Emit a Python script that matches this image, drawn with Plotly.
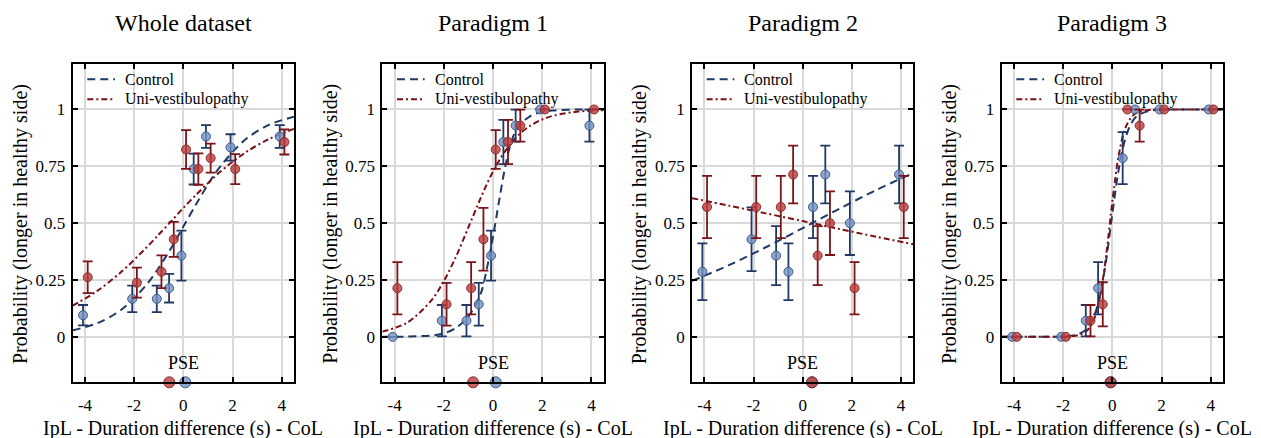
import plotly.graph_objects as go

# ---------------- data ----------------
titles = ["Whole dataset", "Paradigm 1", "Paradigm 2", "Paradigm 3"]
group_names = ["Control", "Uni-vestibulopathy"]

# stimulus durations (IpL - CoL, s)
dur_all = [-4, -2, -1, -0.5, 0, 0.5, 1, 2, 4]
dur_no0 = [-4, -2, -1, -0.5, 0.5, 1, 2, 4]

# observed proportions and error bars
p1_ctrl = [0.095, 0.167, 0.167, 0.214, 0.357, 0.738, 0.881, 0.833, 0.881]
p1_ctrl_err = [0.045, 0.058, 0.058, 0.063, 0.11, 0.068, 0.05, 0.058, 0.05]
p1_uni = [0.262, 0.238, 0.286, 0.429, 0.824, 0.738, 0.786, 0.738, 0.857]
p1_uni_err = [0.07, 0.066, 0.072, 0.077, 0.085, 0.069, 0.064, 0.066, 0.055]

p2_ctrl = [0.0, 0.071, 0.071, 0.143, 0.357, 0.857, 0.929, 1.0, 0.929]
p2_ctrl_err = [0, 0.069, 0.069, 0.094, 0.11, 0.097, 0.07, 0, 0.07]
p2_uni = [0.214, 0.143, 0.214, 0.429, 0.824, 0.857, 0.929, 1.0, 1.0]
p2_uni_err = [0.115, 0.094, 0.115, 0.138, 0.085, 0.097, 0.07, 0, 0]

p3_ctrl = [0.286, 0.429, 0.357, 0.286, 0.571, 0.714, 0.5, 0.714]
p3_ctrl_err = [0.125, 0.14, 0.13, 0.125, 0.137, 0.127, 0.14, 0.127]
p3_uni = [0.571, 0.571, 0.571, 0.714, 0.357, 0.5, 0.214, 0.571]
p3_uni_err = [0.137, 0.137, 0.137, 0.127, 0.13, 0.14, 0.115, 0.137]

p4_ctrl = [0.0, 0.0, 0.071, 0.214, 0.786, 1.0, 1.0, 1.0]
p4_ctrl_err = [0, 0, 0.069, 0.115, 0.114, 0, 0, 0]
p4_uni = [0.0, 0.0, 0.071, 0.143, 1.0, 0.929, 1.0, 1.0]
p4_uni_err = [0, 0, 0.069, 0.097, 0, 0.07, 0, 0]

# fitted psychometric curves
c1_x = [-4.5, -3.5, -2.5, -1.5, -1, -0.5, 0, 0.5, 1, 1.5, 2.5, 3.5, 4.5]
c1_ctrl = [0.029, 0.060, 0.121, 0.229, 0.304, 0.390, 0.485, 0.580, 0.670, 0.749, 0.866, 0.933, 0.968]
c1_uni = [0.137, 0.202, 0.288, 0.393, 0.450, 0.508, 0.567, 0.623, 0.676, 0.726, 0.809, 0.871, 0.915]

c2_x = [-4.5, -3.5, -2.5, -2, -1.5, -1, -0.5, -0.25, 0, 0.25, 0.5, 0.75, 1, 1.5, 2, 2.5, 3.5, 4.5]
c2_ctrl = [0.0, 0.001, 0.006, 0.015, 0.04, 0.09, 0.19, 0.30, 0.44, 0.60, 0.75, 0.86, 0.92, 0.97, 0.99, 0.996, 1.0, 1.0]
c2_uni = [0.023, 0.062, 0.161, 0.245, 0.354, 0.482, 0.611, 0.672, 0.727, 0.776, 0.818, 0.854, 0.884, 0.928, 0.956, 0.974, 0.991, 0.997]

c3_x = [-4.5, -3, -1.5, 0, 1.5, 3, 4.5]
c3_ctrl = [0.246, 0.315, 0.394, 0.478, 0.564, 0.646, 0.721]
c3_uni = [0.610, 0.577, 0.543, 0.509, 0.474, 0.440, 0.407]

c4_x = [-4.5, -3, -2, -1.5, -1.25, -1, -0.75, -0.5, -0.25, 0, 0.25, 0.5, 0.75, 1, 1.5, 2, 3, 4.5]
c4_ctrl = [0.0, 0.0, 0.002, 0.008, 0.018, 0.040, 0.089, 0.182, 0.339, 0.542, 0.731, 0.862, 0.935, 0.971, 0.994, 0.999, 1.0, 1.0]
c4_uni = [0.0, 0.0, 0.001, 0.005, 0.012, 0.031, 0.076, 0.177, 0.360, 0.595, 0.793, 0.910, 0.963, 0.986, 0.998, 1.0, 1.0, 1.0]

# points of subjective equality
pse_ctrl = [0.08, 0.11, 0.38, -0.07]
pse_uni = [-0.57, -0.81, 0.38, -0.07]

x_ticks = [-4, -2, 0, 2, 4]
x_ticklabels = ["-4", "-2", "0", "2", "4"]
y_ticks = [0, 0.25, 0.5, 0.75, 1]
y_ticklabels = ["0", "0.25", "0.5", "0.75", "1"]

panels = [
    (dur_all, p1_ctrl, p1_ctrl_err, p1_uni, p1_uni_err, c1_x, c1_ctrl, c1_uni),
    (dur_all, p2_ctrl, p2_ctrl_err, p2_uni, p2_uni_err, c2_x, c2_ctrl, c2_uni),
    (dur_no0, p3_ctrl, p3_ctrl_err, p3_uni, p3_uni_err, c3_x, c3_ctrl, c3_uni),
    (dur_no0, p4_ctrl, p4_ctrl_err, p4_uni, p4_uni_err, c4_x, c4_ctrl, c4_uni),
]

# ---------------- style / layout ----------------
WIN_W, WIN_H = 1261, 438
OFF = 8                      # default page body margin
W, H = WIN_W - OFF, WIN_H - OFF
FONT = "Liberation Serif, Times New Roman, serif"
CTRL_LINE = "#1f3864"
UNI_LINE = "#7a0f14"
CTRL_FILL = "rgba(115,145,195,0.8)"
UNI_FILL = "rgba(185,60,60,0.8)"
CTRL_EDGE = "#3c5a8c"
UNI_EDGE = "#8e2a2a"
CTRL_ERR = "#1f3864"
UNI_ERR = "#7a1418"
CTRL_DASH = "8px,5px"
UNI_DASH = "6px,3px,2px,3px"
JIT_C, JIT_U = -0.08, 0.11


def px(x):   # window pixel -> paper x
    return (x - OFF) / W


def py(y):   # window pixel -> paper y
    return (WIN_H - y) / H


ax_left0 = 72.7
ax_step = 309.67
ax_w = 221.3
ax_top, ax_bot = 64.0, 382.3

fig = go.Figure()


def nz(errs):
    return [e if e > 0 else None for e in errs]


for i, (dur, pc, pce, pu, pue, cx, cc, cu) in enumerate(panels):
    k = "" if i == 0 else str(i + 1)
    xa, ya = "x" + k, "y" + k
    left = ax_left0 + i * ax_step
    # curves
    fig.add_trace(go.Scatter(x=cx, y=cc, mode="lines", name=group_names[0], showlegend=False,
                             line=dict(color=CTRL_LINE, width=2, dash=CTRL_DASH, shape="spline", smoothing=0.9),
                             xaxis=xa, yaxis=ya, hoverinfo="skip"))
    fig.add_trace(go.Scatter(x=cx, y=cu, mode="lines", name=group_names[1], showlegend=False,
                             line=dict(color=UNI_LINE, width=2, dash=UNI_DASH, shape="spline", smoothing=0.9),
                             xaxis=xa, yaxis=ya, hoverinfo="skip"))
    # data points
    fig.add_trace(go.Scatter(x=[d + JIT_C for d in dur], y=pc, mode="markers", showlegend=False,
                             marker=dict(size=9, color=CTRL_FILL, line=dict(color=CTRL_EDGE, width=1)),
                             error_y=dict(type="data", array=nz(pce), visible=True, color=CTRL_ERR,
                                          thickness=1.8, width=5),
                             xaxis=xa, yaxis=ya))
    fig.add_trace(go.Scatter(x=[d + JIT_U for d in dur], y=pu, mode="markers", showlegend=False,
                             marker=dict(size=9, color=UNI_FILL, line=dict(color=UNI_EDGE, width=1)),
                             error_y=dict(type="data", array=nz(pue), visible=True, color=UNI_ERR,
                                          thickness=1.8, width=5),
                             xaxis=xa, yaxis=ya))
    # PSE markers on the bottom axis
    fig.add_trace(go.Scatter(x=[pse_ctrl[i]], y=[-0.2], mode="markers", showlegend=False, cliponaxis=False,
                             marker=dict(size=11, color=CTRL_FILL, line=dict(color=CTRL_EDGE, width=1)),
                             xaxis=xa, yaxis=ya))
    fig.add_trace(go.Scatter(x=[pse_uni[i]], y=[-0.2], mode="markers", showlegend=False, cliponaxis=False,
                             marker=dict(size=11, color=UNI_FILL, line=dict(color=UNI_EDGE, width=1)),
                             xaxis=xa, yaxis=ya))

    dom_x = [px(left), px(left + ax_w)]
    dom_y = [py(ax_bot), py(ax_top)]
    common = dict(showgrid=True, gridcolor="#d9d9d9", gridwidth=1.5, zeroline=False,
                  showline=True, linecolor="black", linewidth=2, mirror="ticks",
                  ticks="inside", ticklen=5, tickwidth=1.5, tickcolor="black",
                  tickfont=dict(family=FONT, size=17, color="black"))
    fig.layout["xaxis" + k] = dict(domain=dom_x, anchor=ya, range=[-4.5, 4.5],
                                   tickvals=x_ticks, ticktext=x_ticklabels, ticklabelstandoff=6, **common)
    fig.layout["yaxis" + k] = dict(domain=dom_y, anchor=xa, range=[-0.2, 1.2],
                                   tickvals=y_ticks, ticktext=y_ticklabels, ticklabelstandoff=2, **common)

    # legend (drawn inside the axes, top-left)
    for j, (name, col, dash) in enumerate([(group_names[0], CTRL_LINE, CTRL_DASH),
                                           (group_names[1], UNI_LINE, UNI_DASH)]):
        yy = 79.3 + 20 * j
        fig.add_shape(type="line", xref="paper", yref="paper",
                      x0=px(left + 14.6), x1=px(left + 42.3), y0=py(yy), y1=py(yy),
                      line=dict(color=col, width=2, dash=dash))
        fig.add_annotation(text=name, xref="paper", yref="paper", x=px(left + 50.3), y=py(yy),
                           xanchor="left", yanchor="middle", showarrow=False,
                           font=dict(family=FONT, size=16, color="black"))

    # title
    fig.add_annotation(text=titles[i], xref="paper", yref="paper", x=px(left + ax_w / 2), y=py(23),
                       xanchor="center", yanchor="middle", showarrow=False,
                       font=dict(family=FONT, size=24, color="black"))
    # PSE label
    fig.add_annotation(text="PSE", xref=xa, yref=ya, x=0, y=-0.113, xanchor="center", yanchor="middle",
                       showarrow=False, font=dict(family=FONT, size=18, color="black"))
    # axis titles
    fig.add_annotation(text="IpL - Duration difference (s) - CoL", xref="paper", yref="paper",
                       x=px(left + ax_w / 2), y=py(428), xanchor="center", yanchor="middle", showarrow=False,
                       font=dict(family=FONT, size=20, color="black"))
    fig.add_annotation(text="Probability (longer in healthy side)", xref="paper", yref="paper",
                       x=px(left - 52.7), y=py(224), xanchor="center", yanchor="middle",
                       textangle=-90, showarrow=False, font=dict(family=FONT, size=20, color="black"))

fig.update_layout(width=W, height=H, margin=dict(l=0, r=0, t=0, b=0),
                  plot_bgcolor="white", paper_bgcolor="white", showlegend=False,
                  font=dict(family=FONT, color="black"))

fig.write_html("out.html")
